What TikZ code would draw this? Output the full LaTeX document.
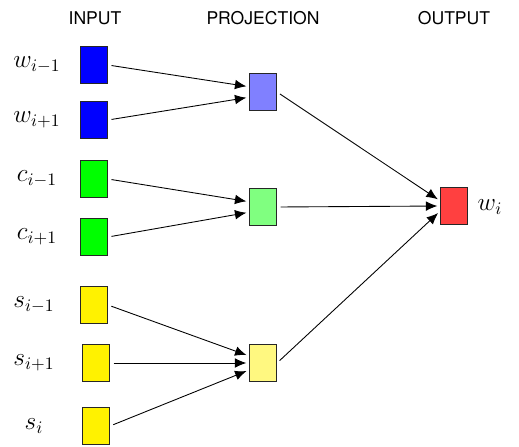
\documentclass[tikz,border=0pt]{standalone}
\usepackage{fontspec}
\setsansfont{TeX Gyre Heros}
\usetikzlibrary{arrows.meta}

\begin{document}
\begin{tikzpicture}[x=0.02cm,y=-0.02cm,
        unit/.style={draw=black!85, line width=0.6pt, minimum width=0.54cm, minimum height=0.74cm, inner sep=0pt},
        lbl/.style={font=\Large},
        head/.style={font=\sffamily\normalsize},
        conn/.style={-{Latex[length=6.5pt,width=5.5pt]}, line width=0.5pt, shorten <=2pt, shorten >=1.5pt}]
    \useasboundingbox (0,0) rectangle (519,446);
    \node[head] (hin) at (95,18) {INPUT};
    \node[head] (hproj) at (263,18) {PROJECTION};
    \node[head] (hout) at (454,18) {OUTPUT};

    \node[unit, fill=blue] (w1) at (94,65) {};
    \node[unit, fill=blue] (w2) at (94,120) {};
    \node[unit, fill=green] (c1) at (94,179) {};
    \node[unit, fill=green] (c2) at (94,237) {};
    \node[unit, fill=yellow] (s1) at (94,305) {};
    \node[unit, fill=yellow] (s2) at (96,363) {};
    \node[unit, fill=yellow] (s3) at (96,426) {};

    \node[lbl] (lw1) at (37,65) {$w_{i-1}$};
    \node[lbl] (lw2) at (37,120) {$w_{i+1}$};
    \node[lbl] (lc1) at (37,179) {$c_{i-1}$};
    \node[lbl] (lc2) at (37,237) {$c_{i+1}$};
    \node[lbl] (ls1) at (34,305) {$s_{i-1}$};
    \node[lbl] (ls2) at (34,363) {$s_{i+1}$};
    \node[lbl] (ls3) at (34,426) {$s_i$};

    \node[unit, fill=blue!50] (pw) at (263,92) {};
    \node[unit, fill=green!50] (pc) at (263,207) {};
    \node[unit, fill=yellow!50] (ps) at (263,363) {};

    \node[unit, fill=red!75] (out) at (454,206) {};
    \node[lbl] (lout) at (490,207) {$w_i$};

    \draw[conn] (w1.east) -- ([yshift=3pt]pw.west);
    \draw[conn] (w2.east) -- ([yshift=-3pt]pw.west);
    \draw[conn] (c1.east) -- ([yshift=3pt]pc.west);
    \draw[conn] (c2.east) -- ([yshift=-3pt]pc.west);
    \draw[conn] (s1.east) -- ([yshift=4pt]ps.west);
    \draw[conn] (s2.east) -- (ps.west);
    \draw[conn] (s3.east) -- ([yshift=-4pt]ps.west);

    \draw[conn] (pw.east) -- ([yshift=3pt]out.west);
    \draw[conn] (pc.east) -- (out.west);
    \draw[conn] (ps.east) -- ([yshift=-3pt]out.west);
\end{tikzpicture}
\end{document}
